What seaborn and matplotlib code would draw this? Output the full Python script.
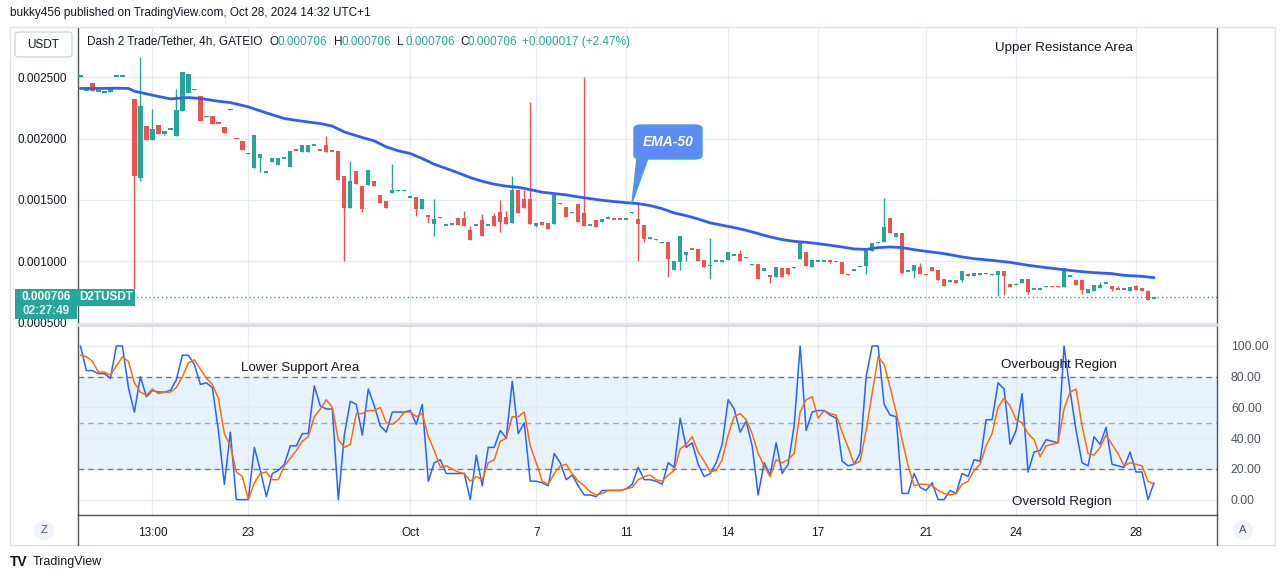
import numpy as np
import matplotlib
matplotlib.use("Agg")
import matplotlib.pyplot as plt
import seaborn as sns
from matplotlib.patches import FancyBboxPatch, Polygon, Rectangle, Ellipse
from matplotlib.lines import Line2D

# --- data (prices in millionths of USDT, one value per 4h candle) ---
OPEN = [
    2505, 2392, 2454, 2384, 2376, 2375, 2506, 2506, 2410, 2321,
    1680, 2101, 1986, 2109, 2035, 2074, 2019, 2226, 2372, 2402,
    2345, 2177, 2182, 2127, 2092, 2234, 2002, 1978, 1876, 1761,
    1845, 1724, 1810, 1785, 1838, 1769, 1907, 1891, 1891, 1944,
    1907, 1946, 1899, 1897, 1693, 1435, 1734, 1614, 1620, 1652,
    1538, 1489, 1557, 1574, 1574, 1520, 1525, 1424, 1369, 1304,
    1358, 1292, 1300, 1351, 1351, 1253, 1292, 1334, 1292, 1367,
    1400, 1359, 1313, 1579, 1505, 1505, 1288, 1321, 1313, 1304,
    1472, 1443, 1395, 1465, 1394, 1292, 1334, 1321, 1351, 1347,
    1347, 1343, 1395, 1348, 1294, 1188, 1175, 1153, 1155, 933,
    995, 1052, 1103, 1101, 1008, 963, 1003, 995, 1008, 1052,
    1063, 1028, 971, 976, 921, 892, 873, 949, 943, 949,
    1019, 1073, 954, 1003, 1003, 1007, 1002, 995, 894, 930,
    955, 960, 1087, 1153, 1155, 1351, 1198, 1228, 919, 921,
    957, 894, 951, 927, 856, 832, 845, 845, 894, 883,
    886, 902, 890, 889, 919, 818, 808, 824, 854, 775,
    775, 792, 796, 796, 791, 881, 845, 845, 745, 758,
    783, 824, 796, 779, 773, 758, 802, 780, 761, 700,
]
HIGH = [
    2510, 2396, 2454, 2388, 2380, 2402, 2510, 2510, 2410, 2321,
    2666, 2101, 2242, 2109, 2060, 2078, 2407, 2541, 2527, 2402,
    2345, 2181, 2182, 2127, 2092, 2238, 2002, 1978, 1880, 2025,
    1872, 1728, 1840, 1842, 1842, 1897, 1907, 1946, 1946, 1948,
    1907, 2019, 1899, 1897, 1693, 1818, 1734, 1614, 1742, 1652,
    1538, 1489, 1791, 1578, 1578, 1524, 1525, 1505, 1369, 1505,
    1362, 1296, 1304, 1351, 1408, 1285, 1296, 1383, 1296, 1397,
    1500, 1408, 1693, 1579, 1579, 2299, 1313, 1321, 1313, 1538,
    1472, 1443, 1399, 1465, 2503, 1296, 1334, 1342, 1367, 1347,
    1347, 1347, 1399, 1484, 1294, 1192, 1179, 1157, 1155, 1003,
    1204, 1073, 1103, 1101, 1008, 1193, 1007, 1014, 1079, 1056,
    1090, 1032, 975, 976, 943, 892, 957, 949, 943, 953,
    1149, 1073, 1008, 1007, 1007, 1007, 1002, 995, 894, 934,
    959, 1095, 1149, 1157, 1514, 1351, 1231, 1228, 923, 968,
    987, 894, 951, 927, 856, 845, 845, 919, 894, 908,
    903, 902, 894, 919, 919, 818, 826, 854, 854, 779,
    779, 796, 796, 796, 943, 885, 845, 845, 775, 810,
    829, 828, 796, 796, 777, 794, 805, 786, 769, 706,
]
LOW = [
    2505, 2392, 2389, 2384, 2376, 2375, 2506, 2506, 2405, 777,
    1656, 1986, 1986, 2035, 2027, 2074, 2019, 2226, 2372, 2398,
    2144, 2177, 2120, 2123, 2046, 2234, 1998, 1908, 1876, 1761,
    1728, 1724, 1810, 1785, 1838, 1769, 1903, 1891, 1891, 1944,
    1903, 1891, 1895, 1666, 1003, 1435, 1633, 1402, 1620, 1614,
    1476, 1435, 1557, 1574, 1574, 1520, 1370, 1424, 1313, 1207,
    1354, 1292, 1300, 1294, 1288, 1177, 1292, 1207, 1292, 1288,
    1239, 1304, 1313, 1394, 1435, 1304, 1280, 1296, 1264, 1304,
    1468, 1362, 1395, 1321, 1288, 1292, 1280, 1321, 1351, 1343,
    1343, 1343, 1395, 1003, 1158, 1188, 1175, 1153, 873, 933,
    927, 1003, 1099, 1003, 954, 855, 1003, 995, 1008, 1052,
    1003, 1028, 971, 856, 921, 824, 873, 873, 886, 949,
    1019, 960, 954, 1003, 1003, 990, 998, 897, 890, 930,
    955, 900, 1087, 1153, 1155, 1231, 1198, 894, 919, 864,
    900, 890, 924, 851, 799, 832, 824, 832, 878, 883,
    886, 898, 890, 718, 723, 791, 808, 824, 737, 775,
    775, 792, 792, 792, 791, 881, 807, 731, 745, 758,
    783, 824, 758, 775, 773, 758, 764, 761, 688, 700,
]
CLOSE = [
    2510, 2396, 2389, 2388, 2380, 2402, 2510, 2510, 2405, 1696,
    2264, 1986, 2076, 2035, 2060, 2078, 2231, 2541, 2527, 2398,
    2144, 2181, 2120, 2123, 2046, 2238, 1998, 1908, 1880, 2025,
    1872, 1728, 1840, 1842, 1842, 1897, 1903, 1946, 1946, 1948,
    1903, 1891, 1895, 1666, 1435, 1652, 1633, 1424, 1742, 1614,
    1476, 1435, 1579, 1578, 1578, 1524, 1424, 1505, 1365, 1342,
    1354, 1296, 1304, 1294, 1288, 1177, 1296, 1207, 1296, 1288,
    1321, 1304, 1579, 1394, 1435, 1304, 1313, 1296, 1264, 1538,
    1468, 1362, 1399, 1321, 1288, 1296, 1280, 1342, 1355, 1343,
    1343, 1347, 1399, 1304, 1180, 1192, 1179, 1157, 1016, 1003,
    1204, 1073, 1099, 1003, 954, 967, 1007, 1014, 1079, 1056,
    1003, 1032, 975, 856, 943, 870, 957, 873, 894, 953,
    1149, 960, 1008, 1007, 1007, 1003, 998, 897, 890, 934,
    959, 1095, 1149, 1157, 1280, 1231, 1231, 902, 923, 968,
    900, 890, 924, 851, 799, 845, 824, 919, 878, 908,
    903, 898, 894, 919, 878, 791, 812, 854, 750, 779,
    779, 796, 792, 792, 943, 885, 807, 769, 775, 810,
    805, 828, 775, 775, 777, 794, 764, 761, 688, 706,
]

# EMA-50 at a subset of candles
EMA_IDX = [0, 3, 6, 8, 9, 12, 15, 18, 20, 23, 25, 28, 31, 34, 37, 40, 42, 44, 47, 49,
           51, 53, 55, 57, 59, 61, 63, 65, 67, 69, 71, 73, 75, 77, 79, 81, 83, 85, 87, 89,
           91, 93, 95, 97, 99, 101, 103, 105, 107, 109, 111, 113, 115, 117, 119, 121, 123, 125, 127, 129,
           131, 133, 135, 137, 139, 141, 144, 147, 149, 152, 155, 158, 161, 163, 166, 169, 172, 174, 177, 179]
EMA_VAL = [2408, 2408, 2410, 2408, 2386, 2353, 2323, 2334, 2326, 2304, 2293, 2258, 2209, 2163, 2141, 2122, 2101, 2054, 2008, 1981,
           1932, 1900, 1878, 1837, 1791, 1756, 1720, 1682, 1652, 1628, 1612, 1603, 1584, 1563, 1552, 1541, 1525, 1511, 1497, 1487,
           1478, 1470, 1454, 1429, 1394, 1372, 1345, 1313, 1294, 1275, 1253, 1226, 1199, 1177, 1163, 1155, 1144, 1131, 1117, 1101,
           1098, 1112, 1117, 1112, 1095, 1082, 1063, 1036, 1022, 1008, 992, 968, 949, 938, 921, 908, 900, 886, 878, 867]

# Stochastic RSI %K (blue) and %D (orange)
STOCH_K = [
    100, 84, 84, 82, 82, 79, 100, 100, 73, 57,
    80, 67, 71, 70, 70, 71, 78, 94, 94, 88,
    75, 76, 73, 45, 10, 44, 0, 0, 0, 34,
    19, 2, 17, 19, 23, 35, 35, 43, 43, 74,
    61, 59, 59, 0, 42, 64, 62, 42, 72, 61,
    48, 44, 57, 57, 57, 58, 49, 62, 12, 24,
    26, 17, 17, 17, 17, 0, 29, 9, 34, 34,
    45, 40, 77, 43, 50, 12, 12, 11, 9, 30,
    24, 13, 16, 9, 3, 3, 2, 6, 6, 6,
    6, 7, 10, 21, 13, 13, 12, 10, 24, 21,
    53, 34, 37, 23, 15, 17, 24, 36, 65, 59,
    44, 51, 35, 3, 24, 16, 37, 17, 23, 48,
    100, 45, 57, 58, 58, 55, 53, 25, 22, 23,
    30, 80, 100, 100, 62, 55, 54, 4, 4, 17,
    8, 6, 11, 0, 0, 6, 4, 17, 15, 26,
    25, 52, 52, 76, 72, 36, 45, 69, 18, 31,
    32, 39, 38, 37, 100, 71, 45, 24, 22, 41,
    36, 47, 23, 22, 21, 31, 18, 18, 0, 11,
]
STOCH_D = [
    94, 93, 90, 83, 83, 81, 87, 93, 90, 76,
    70, 68, 72, 69, 70, 70, 73, 80, 89, 91,
    85, 79, 75, 66, 43, 35, 18, 15, 0, 11,
    17, 18, 13, 13, 22, 27, 32, 38, 41, 54,
    59, 65, 60, 39, 34, 36, 56, 56, 58, 58,
    60, 50, 49, 52, 57, 57, 54, 56, 41, 32,
    21, 22, 20, 18, 17, 12, 15, 13, 24, 26,
    38, 40, 54, 54, 57, 35, 24, 12, 10, 17,
    22, 23, 17, 12, 9, 5, 3, 4, 6, 6,
    6, 7, 8, 13, 15, 16, 13, 12, 16, 19,
    33, 36, 41, 31, 25, 18, 19, 26, 42, 54,
    56, 52, 43, 30, 22, 15, 26, 24, 26, 30,
    57, 65, 67, 53, 58, 56, 55, 44, 34, 23,
    25, 45, 69, 93, 88, 73, 57, 39, 22, 9,
    10, 10, 9, 6, 4, 3, 4, 10, 12, 19,
    23, 35, 43, 60, 66, 61, 52, 50, 43, 39,
    28, 35, 36, 37, 59, 70, 72, 48, 30, 29,
    34, 42, 36, 30, 22, 24, 23, 22, 12, 10,
]

DATE_POS = [12, 28, 55, 76, 91, 108, 123, 141, 156, 176]
DATE_LABELS = ["13:00", "23", "Oct", "7", "11", "14", "17", "21", "24", "28"]
PRICE_TICKS = [0.0005, 0.0010, 0.0015, 0.0020, 0.0025]
OSC_TICKS = [0, 20, 40, 60, 80, 100]
LAST_PRICE = 0.000706

# --- style ---
TEAL = "#26a69a"
RED = "#ef5350"
GRID = "#e4eaf1"
TXT = "#131722"
W, H = 1281, 579

sns.set_theme(style="white")
plt.rcParams["font.family"] = ["Liberation Sans", "DejaVu Sans"]


def fx(px):
    return px / W


def fy(py):
    return 1 - py / H


fig = plt.figure(figsize=(W / 100, H / 100), dpi=100)
fig.patch.set_facecolor("white")
ax = fig.add_axes([fx(78), fy(324), fx(1217) - fx(78), fy(28) - fy(324)])
ax2 = fig.add_axes([fx(78), fy(515), fx(1217) - fx(78), fy(326) - fy(515)], sharex=ax)

x = np.arange(len(OPEN))
o = np.array(OPEN) * 1e-6
h = np.array(HIGH) * 1e-6
l = np.array(LOW) * 1e-6
c = np.array(CLOSE) * 1e-6
colors = np.where(c >= o, TEAL, RED)

# candles
ax.vlines(x, l, h, color=colors, linewidth=1.0, zorder=3)
raw_h = np.abs(c - o)
body_h = np.maximum(raw_h, 1.3e-5)
body_b = np.minimum(o, c) - (body_h - raw_h) / 2
ax.bar(x, body_h, bottom=body_b, width=0.72, color=colors, linewidth=0, zorder=4)

# EMA-50
sns.lineplot(x=np.array(EMA_IDX), y=np.array(EMA_VAL) * 1e-6, ax=ax,
             color="#2f5ef3", linewidth=2.0, zorder=5, legend=False)

# last price dotted line
ax.axhline(LAST_PRICE, color=TEAL, linestyle=(0, (1, 2)), linewidth=1.0, zorder=2)

ax.set_xlim(-0.4, 189.5)
ax.set_ylim(0.000490, 0.002900)
ax.set_yticks(PRICE_TICKS)
ax.set_yticklabels([f"{v:.6f}" for v in PRICE_TICKS])
ax.set_xticks(DATE_POS)
ax.grid(True, color=GRID, linewidth=0.9)
ax.tick_params(axis="y", length=0, pad=8, labelsize=8.5, labelcolor=TXT)
ax.tick_params(axis="x", length=0, labelbottom=False)
ax.set_xlabel("")
ax.set_ylabel("")
ax.spines["top"].set_visible(False)
ax.spines["bottom"].set_color("#e0e3eb")
for side in ["left", "right"]:
    ax.spines[side].set_color("#50535e")
    ax.spines[side].set_linewidth(1.0)

# stochastic RSI panel
ax2.axhspan(20, 80, color="#e6f2fd", zorder=0, linewidth=0)
sns.lineplot(x=x, y=np.array(STOCH_K), ax=ax2, color="#2962ff", linewidth=1.1, zorder=4, legend=False)
sns.lineplot(x=x, y=np.array(STOCH_D), ax=ax2, color="#ff6d00", linewidth=1.1, zorder=5, legend=False)
for lvl, col in [(80, "#787b86"), (50, "#a3a6af"), (20, "#787b86")]:
    ax2.axhline(lvl, color=col, linestyle=(0, (4, 3)), linewidth=1.0, zorder=3)
ax2.set_ylim(-10, 113)
ax2.set_yticks(OSC_TICKS)
ax2.set_yticklabels([f"{v:.2f}" for v in OSC_TICKS])
ax2.yaxis.tick_right()
ax2.set_xticks(DATE_POS)
ax2.set_xticklabels(DATE_LABELS)
ax2.grid(True, color=GRID, linewidth=0.9)
ax2.tick_params(axis="y", length=0, pad=10, labelsize=8.8, labelcolor="#50535e")
ax2.tick_params(axis="x", length=0, pad=9, labelsize=8.5, labelcolor=TXT)
ax2.set_xlabel("")
ax2.set_ylabel("")
ax2.spines["top"].set_color("#d1d4dc")
for side in ["left", "right", "bottom"]:
    ax2.spines[side].set_color("#50535e")
    ax2.spines[side].set_linewidth(1.0)

# frame lines around the chart
fig.add_artist(Rectangle((fx(10), fy(545)), fx(1275) - fx(10), fy(27) - fy(545),
                         transform=fig.transFigure, fill=False, edgecolor="#e0e3eb", linewidth=1))
for px in (78, 1217):
    fig.add_artist(Line2D([fx(px), fx(px)], [fy(545), fy(515)], transform=fig.transFigure,
                          color="#50535e", linewidth=1))

# header texts
fig.text(fx(10), fy(13), "bukky456 published on TradingView.com, Oct 28, 2024 14:32 UTC+1",
         fontsize=8.5, color=TXT, va="center")
fig.text(fx(87), fy(42), "Dash 2 Trade/Tether, 4h, GATEIO", fontsize=8.5, color=TXT, va="center")
for lab, px in [("O", 270), ("H", 334), ("L", 397), ("C", 460)]:
    fig.text(fx(px), fy(42), lab, fontsize=8.5, color=TXT, va="center")
    fig.text(fx(px + 8), fy(42), "0.000706", fontsize=8.5, color=TEAL, va="center")
fig.text(fx(522), fy(42), "+0.000017 (+2.47%)", fontsize=8.5, color=TEAL, va="center")

# USDT button
fig.add_artist(FancyBboxPatch((fx(15), fy(57)), fx(57), fy(32) - fy(57),
                              boxstyle="round,pad=0,rounding_size=0.004",
                              transform=fig.transFigure, facecolor="white",
                              edgecolor="#d1d4dc", linewidth=1))
fig.text(fx(43), fy(45), "USDT", fontsize=8.5, color=TXT, ha="center", va="center")

# last price labels
fig.add_artist(Rectangle((fx(15), fy(319)), fx(62), fy(289) - fy(319),
                         transform=fig.transFigure, facecolor=TEAL, edgecolor="none"))
fig.add_artist(Rectangle((fx(77), fy(306)), fx(58), fy(289) - fy(306),
                         transform=fig.transFigure, facecolor=TEAL, edgecolor="none"))
fig.text(fx(46), fy(297), "0.000706", fontsize=8.5, color="white", weight="bold",
         ha="center", va="center")
fig.text(fx(46), fy(311), "02:27:49", fontsize=8.5, color="#dff3f1", weight="bold",
         ha="center", va="center")
fig.text(fx(106), fy(297), "D2TUSDT", fontsize=8.5, color="white", weight="bold",
         ha="center", va="center")

# EMA-50 callout
fig.add_artist(Polygon([(fx(637), fy(158)), (fx(648), fy(158)), (fx(632), fy(203))],
                       closed=True, transform=fig.transFigure, facecolor="#5b8cf6",
                       edgecolor="#45a3cf", linewidth=1))
fig.add_artist(FancyBboxPatch((fx(634), fy(159)), fx(68), fy(125) - fy(159),
                              boxstyle="round,pad=0,rounding_size=0.006",
                              transform=fig.transFigure, facecolor="#5b8cf6",
                              edgecolor="#45a3cf", linewidth=1))
fig.text(fx(668), fy(142), "EMA-50", fontsize=10, color="white", style="italic",
         weight="bold", ha="center", va="center")

# annotations
fig.text(fx(1064), fy(48), "Upper Resistance Area", fontsize=9.6, color=TXT, ha="center", va="center")
fig.text(fx(300), fy(368), "Lower Support Area", fontsize=9.6, color=TXT, ha="center", va="center")
fig.text(fx(1059), fy(365), "Overbought Region", fontsize=9.6, color=TXT, ha="center", va="center")
fig.text(fx(1062), fy(502), "Oversold Region", fontsize=9.6, color=TXT, ha="center", va="center")

# scale buttons
for px, lab in [(44, "Z"), (1243, "A")]:
    fig.add_artist(Ellipse((fx(px), fy(530)), 20 / W, 20 / H, transform=fig.transFigure,
                           facecolor="#f0f3fa", edgecolor="none"))
    fig.text(fx(px), fy(530), lab, fontsize=8, color="#50535e", ha="center", va="center")

# footer logo
fig.text(fx(10), fy(562), "TV", fontsize=10, color=TXT, weight="black", va="center")
fig.text(fx(33), fy(562), "TradingView", fontsize=9, color=TXT, va="center")

fig.savefig("out.png", dpi=100)
